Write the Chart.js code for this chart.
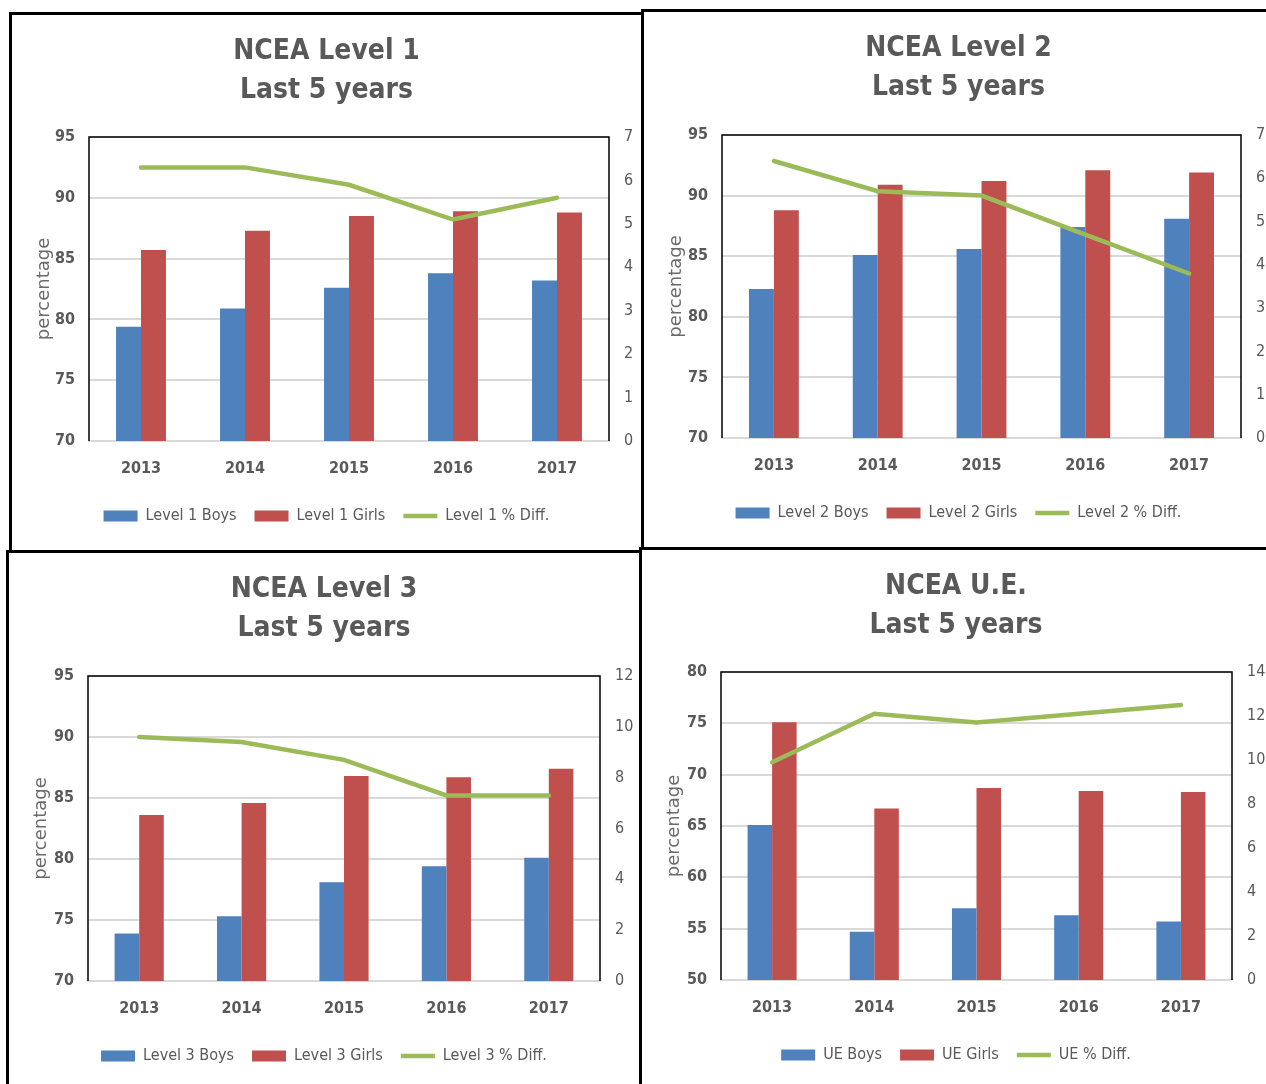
<!DOCTYPE html>
<html>
<head>
<meta charset="utf-8">
<script src="https://cdn.jsdelivr.net/npm/chart.js@4.4.0/dist/chart.umd.min.js"></script>
<style>
  body { margin: 0; background: #fff; width: 1266px; height: 1084px; overflow: hidden; position: relative; }
  .panel { position: absolute; border: 3px solid #000; box-sizing: border-box; background: #fff; overflow: hidden; }
  .panel canvas { display: block; }
</style>
</head>
<body>
<div class="panel" style="left:9px;top:12px;width:635px;height:541px"><canvas id="c1" width="629" height="535"></canvas></div>
<div class="panel" style="left:641px;top:9px;width:632px;height:541px"><canvas id="c2" width="629" height="535"></canvas></div>
<div class="panel" style="left:6px;top:550px;width:636px;height:540px"><canvas id="c3" width="630" height="534"></canvas></div>
<div class="panel" style="left:639px;top:547px;width:634px;height:540px"><canvas id="c4" width="628" height="534"></canvas></div>
<script>
const years = ["2013", "2014", "2015", "2016", "2017"];

const l1Boys = [79.4, 80.9, 82.6, 83.8, 83.2];
const l1Girls = [85.7, 87.3, 88.5, 88.9, 88.8];
const l1Diff = [6.3, 6.3, 5.9, 5.1, 5.6];

const l2Boys = [82.3, 85.1, 85.6, 87.4, 88.1];
const l2Girls = [88.8, 90.9, 91.2, 92.1, 91.9];
const l2Diff = [6.4, 5.7, 5.6, 4.7, 3.8];

const l3Boys = [73.9, 75.3, 78.1, 79.4, 80.1];
const l3Girls = [83.6, 84.6, 86.8, 86.7, 87.4];
const l3Diff = [9.6, 9.4, 8.7, 7.3, 7.3];

const ueBoys = [65.1, 54.7, 57.0, 56.3, 55.7];
const ueGirls = [75.1, 66.7, 68.7, 68.4, 68.3];
const ueDiff = [9.9, 12.1, 11.7, 12.1, 12.5];

const narrow = "'DejaVu Sans Condensed', 'Liberation Sans Narrow', sans-serif";
const grey = "#595959";

// black frame on top / left / right of the plot area
const framePlugin = {
  id: "frame",
  afterDatasetsDraw(chart) {
    const { ctx, chartArea: a } = chart;
    ctx.save();
    ctx.strokeStyle = "#000";
    ctx.lineWidth = 1.5;
    ctx.beginPath();
    ctx.moveTo(a.left, a.bottom);
    ctx.lineTo(a.left, a.top);
    ctx.lineTo(a.right, a.top);
    ctx.lineTo(a.right, a.bottom);
    ctx.stroke();
    ctx.restore();
  }
};

function makeChart(id, titleText, names, boys, girls, diff, yr, y1r, plot) {
  const canvas = document.getElementById(id);
  return new Chart(canvas.getContext("2d"), {
    data: {
      labels: years,
      datasets: [
        { type: "bar", label: names[0], data: boys, backgroundColor: "#4F81BD", yAxisID: "y",
          categoryPercentage: 0.48, barPercentage: 1.0, order: 1 },
        { type: "bar", label: names[1], data: girls, backgroundColor: "#C0504D", yAxisID: "y",
          categoryPercentage: 0.48, barPercentage: 1.0, order: 1 },
        { type: "line", label: names[2], data: diff, borderColor: "#9BBB59", backgroundColor: "#9BBB59",
          borderWidth: 4.5, pointRadius: 0, tension: 0, borderCapStyle: "round", yAxisID: "y1", order: 0 }
      ]
    },
    options: {
      responsive: false,
      animation: false,
      layout: { padding: { left: 0, right: 0, top: 0, bottom: plot.pb } },
      plugins: {
        title: {
          display: true,
          text: [titleText, "Last 5 years"],
          color: grey,
          font: { family: narrow, size: 28, weight: "bold", lineHeight: "39px" },
          padding: { top: 17, bottom: plot.top - 17 - 78 }
        },
        legend: {
          position: "bottom",
          labels: {
            color: grey,
            font: { family: narrow, size: 16 },
            usePointStyle: true,
            pointStyleWidth: 34,
            boxHeight: 11,
            padding: 18,
            sort: (a, b) => a.datasetIndex - b.datasetIndex,
            generateLabels(chart) {
              const items = Chart.defaults.plugins.legend.labels.generateLabels(chart);
              items.forEach(it => {
                it.pointStyle = chart.data.datasets[it.datasetIndex].type === "line" ? "line" : "rect";
              });
              return items;
            }
          }
        },
        tooltip: { enabled: false }
      },
      scales: {
        x: {
          grid: { display: false, drawTicks: false },
          border: { display: true, color: "#D9D9D9", width: 2 },
          ticks: { color: grey, font: { family: narrow, size: 16, weight: "bold" }, padding: 18 },
          afterFit(s) { s.height = 49; }
        },
        y: {
          position: "left",
          min: yr[0], max: yr[1],
          ticks: { stepSize: yr[2], color: grey, padding: 14, font: { family: narrow, size: 16, weight: "bold" } },
          grid: { color: "#D9D9D9", lineWidth: 2, drawTicks: false },
          border: { display: false },
          title: { display: true, text: "percentage", color: "#6b6b6b",
                   font: { family: "'DejaVu Sans', sans-serif", size: 18 }, padding: { top: plot.tp, bottom: 0 } },
          afterFit(s) { s.width = plot.left; }
        },
        y1: {
          position: "right",
          min: 0, max: y1r[0],
          ticks: { stepSize: y1r[1], color: grey, padding: 15, font: { family: narrow, size: 16 } },
          grid: { display: false, drawTicks: false },
          border: { display: false },
          afterFit(s) { s.width = canvas.width - plot.right; }
        }
      }
    },
    plugins: [framePlugin]
  });
}

makeChart("c1", "NCEA Level 1", ["Level 1 Boys", "Level 1 Girls", "Level 1 % Diff."],
  l1Boys, l1Girls, l1Diff, [70, 95, 5], [7, 1], { left: 77, right: 597, top: 122, pb: 16, tp: 22 });
makeChart("c2", "NCEA Level 2", ["Level 2 Boys", "Level 2 Girls", "Level 2 % Diff."],
  l2Boys, l2Girls, l2Diff, [70, 95, 5], [7, 1], { left: 78, right: 597, top: 123, pb: 16, tp: 22 });
makeChart("c3", "NCEA Level 3", ["Level 3 Boys", "Level 3 Girls", "Level 3 % Diff."],
  l3Boys, l3Girls, l3Diff, [70, 95, 5], [12, 2], { left: 79, right: 591, top: 123, pb: 13, tp: 22 });
makeChart("c4", "NCEA U.E.", ["UE Boys", "UE Girls", "UE % Diff."],
  ueBoys, ueGirls, ueDiff, [50, 80, 5], [14, 2], { left: 79, right: 590, top: 122, pb: 11, tp: 22 });
</script>
</body>
</html>
